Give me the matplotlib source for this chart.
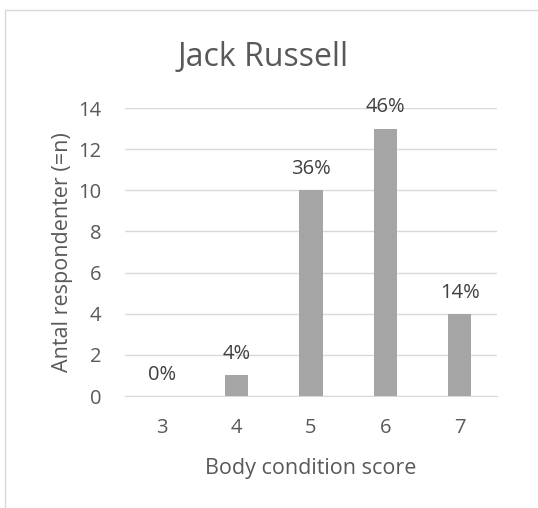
import matplotlib
matplotlib.use("Agg")
import matplotlib.pyplot as plt
from matplotlib.patches import Rectangle

scores = ["3", "4", "5", "6", "7"]
counts = [0, 1, 10, 13, 4]
pct_labels = ["0%", "4%", "36%", "46%", "14%"]
yticks = [0, 2, 4, 6, 8, 10, 12, 14]

plt.rcParams["font.family"] = ["Open Sans", "DejaVu Sans"]
TXT = "#595959"

fig = plt.figure(figsize=(5.38, 5.08), dpi=100)
# outer chart border
fig.patches.append(Rectangle((5 / 538, -0.1), 1.2, 1 - 10 / 508 + 0.1,
                             transform=fig.transFigure, fill=False,
                             edgecolor="#d9d9d9", linewidth=1.0))

ax = fig.add_axes([125 / 538, 1 - 396 / 508, 372 / 538, 288 / 508])
x = range(len(scores))
bars = ax.bar(x, counts, width=0.31, color="#a5a5a5", zorder=3)
for b, lab in zip(bars, pct_labels):
    ax.annotate(lab, (b.get_x() + b.get_width() / 2, b.get_height()),
                xytext=(0, 8), textcoords="offset points",
                ha="center", va="bottom", fontsize=14.5, color="#404040")

ax.set_xlim(-0.5, len(scores) - 0.5)
ax.set_ylim(0, 14)
ax.set_yticks(yticks)
ax.set_xticks(list(x))
ax.set_xticklabels(scores)
ax.grid(axis="y", color="#d9d9d9", linewidth=1.0, zorder=0)
for s in ["top", "right", "left"]:
    ax.spines[s].set_visible(False)
ax.spines["bottom"].set_color("#d9d9d9")
ax.tick_params(length=0, labelsize=14.5, labelcolor=TXT)
ax.tick_params(axis="x", pad=16)
ax.tick_params(axis="y", pad=17)
ax.set_xlabel("Body condition score", fontsize=15.5, color=TXT, labelpad=14)
ax.set_ylabel("Antal respondenter (=n)", fontsize=15.5, color=TXT, labelpad=4)
fig.text(0.49, 1 - 58 / 508, "Jack Russell", ha="center", va="center",
         fontsize=23, color=TXT)

fig.savefig("out.png", dpi=100)
